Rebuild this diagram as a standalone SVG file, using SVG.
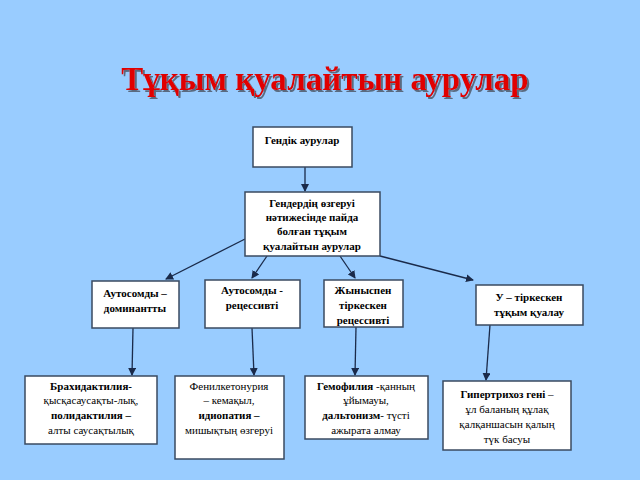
<svg xmlns="http://www.w3.org/2000/svg" width="640" height="480" viewBox="0 0 640 480" font-family="'Liberation Serif', 'Times New Roman', serif">
<defs>
<marker id="ah" markerWidth="8" markerHeight="8" refX="7" refY="4" orient="auto" markerUnits="userSpaceOnUse"><path d="M0,0 L8,4 L0,8 z" fill="#1a2a4a"/></marker>
<filter id="sh" x="-5%" y="-20%" width="110%" height="140%"><feDropShadow dx="2" dy="2" stdDeviation="0.5" flood-color="#5a6a80"/></filter>
</defs>
<style>
.b{fill:#fff;stroke:#3a4a60;stroke-width:1.5}
text{font-family:'Liberation Serif','Times New Roman',serif;font-size:11px;fill:#000;text-anchor:middle}
.bd{font-weight:bold}
.c{stroke:#1a2a4a;stroke-width:1.3;fill:none;marker-end:url(#ah)}
</style>
<rect width="640" height="480" fill="#99ccff"/>
<text x="325" y="90" filter="url(#sh)" style="font-size:33px;font-weight:bold;fill:#e00000">Тұқым қуалайтын аурулар</text>
<g id="connectors">
<line class="c" x1="305" y1="167" x2="305" y2="191"/>
<line class="c" x1="245" y1="239" x2="166" y2="279"/>
<line class="c" x1="267" y1="256" x2="252" y2="278"/>
<line class="c" x1="340" y1="256" x2="355" y2="278"/>
<line class="c" x1="380" y1="256" x2="473" y2="280"/>
<line class="c" x1="133" y1="328" x2="132" y2="375"/>
<line class="c" x1="252" y1="328" x2="254" y2="375"/>
<line class="c" x1="356" y1="327" x2="355" y2="375"/>
<line class="c" x1="490" y1="325" x2="486" y2="380"/>
</g>
<g id="n1"><rect class="b" x="253" y="127" width="99" height="40"/><text class="bd" x="302" y="144">Гендік аурулар</text></g>
<g id="n2"><rect class="b" x="245" y="192" width="135" height="64"/><text class="bd" x="312" y="207">Гендердің өзгеруі</text><text class="bd" x="312" y="221">нәтижесінде пайда</text><text class="bd" x="312" y="235">болған тұқым</text><text class="bd" x="312" y="250">қуалайтын аурулар</text></g>
<g id="n3"><rect class="b" x="92" y="281" width="87" height="47"/><text class="bd" x="135" y="297">Аутосомды –</text><text class="bd" x="135" y="312">доминантты</text></g>
<g id="n4"><rect class="b" x="205" y="280" width="95" height="48"/><text class="bd" x="252" y="294">Аутосомды -</text><text class="bd" x="252" y="309">рецессивті</text></g>
<g id="n5"><rect class="b" x="324" y="280" width="79" height="47"/><text class="bd" x="363" y="294">Жыныспен</text><text class="bd" x="363" y="309">тіркескен</text><text class="bd" x="363" y="324">рецессивті</text></g>
<g id="n6"><rect class="b" x="476" y="285" width="107" height="40"/><text class="bd" x="529" y="301">У – тіркескен</text><text class="bd" x="529" y="316">тұқым қуалау</text></g>
<g id="n7"><rect class="b" x="25" y="376" width="132" height="68"/><text class="bd" x="91" y="390">Брахидактилия-</text><text x="91" y="404">қысқасаусақты-лық,</text><text class="bd" x="91" y="419">полидактилия –</text><text x="91" y="434">алты саусақтылық</text></g>
<g id="n8"><rect class="b" x="175" y="376" width="109" height="83"/><text x="229" y="390">Фенилкетонурия</text><text x="229" y="404">– кемақыл,</text><text class="bd" x="229" y="419">идиопатия –</text><text x="229" y="434">мишықтың өзгеруі</text></g>
<g id="n9"><rect class="b" x="305" y="376" width="123" height="63"/><text x="366" y="390"><tspan class="bd">Гемофилия</tspan> -қанның</text><text x="366" y="404">ұйымауы,</text><text x="366" y="419"><tspan class="bd">дальтонизм</tspan>- түсті</text><text x="366" y="434">ажырата алмау</text></g>
<g id="n10"><rect class="b" x="443" y="381" width="128" height="69"/><text x="507" y="398"><tspan class="bd">Гипертрихоз гені</tspan> –</text><text x="507" y="413">ұл баланың құлақ</text><text x="507" y="428">қалқаншасын қалың</text><text x="507" y="443">түк басуы</text></g>
</svg>
